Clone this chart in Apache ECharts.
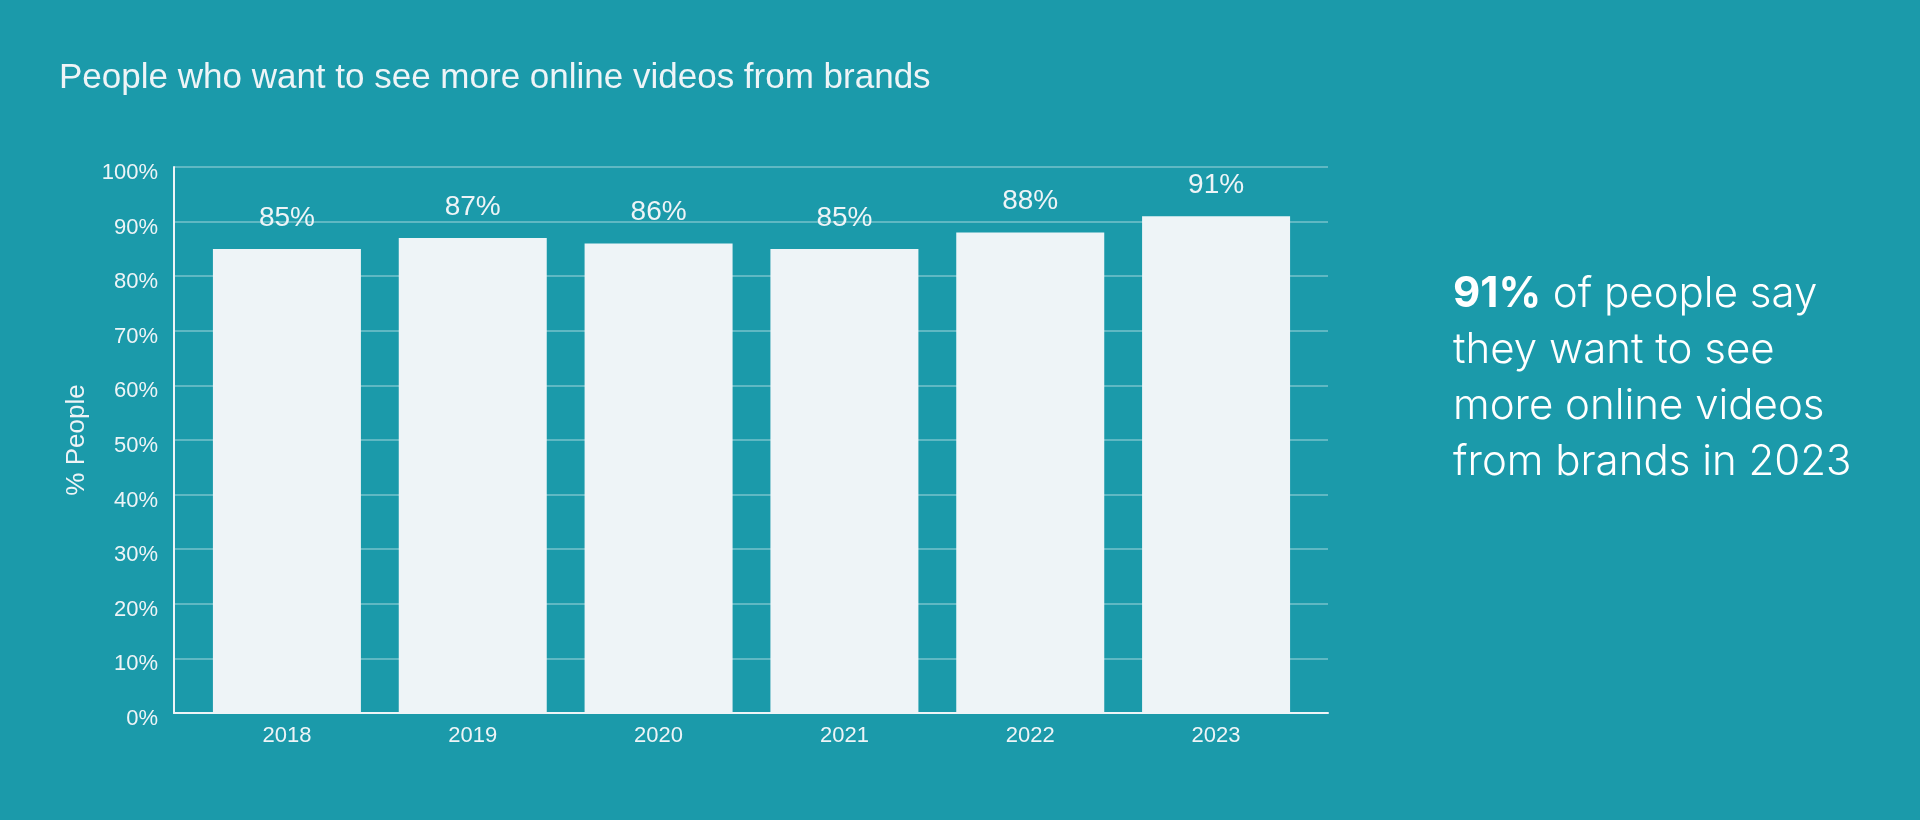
<!DOCTYPE html>
<html>
<head>
<meta charset="utf-8">
<script src="https://cdn.jsdelivr.net/npm/echarts@6/dist/echarts.min.js"></script>
<style>html,body{margin:0;padding:0;background:#1B9AAA;}#c{width:1920px;height:820px;}</style>
</head>
<body>
<div id="c"></div>
<script>
const categories = ['2018', '2019', '2020', '2021', '2022', '2023'];
const values = [85, 87, 86, 85, 88, 91];
const titleText = 'People who want to see more online videos from brands';
const yAxisName = '% People';
const calloutBold = '91%';
const calloutLines = [' of people say', 'they want to see', 'more online videos', 'from brands in 2023'];

const fg = '#EEF4F7';
const chart = echarts.init(document.getElementById('c'), null, {renderer: 'canvas'});
chart.setOption({
  backgroundColor: '#1B9AAA',
  animation: false,
  title: {
    text: titleText,
    left: 59, top: 61, padding: 0,
    textStyle: {color: fg, fontSize: 35, fontWeight: 'normal', fontFamily: 'Liberation Sans'}
  },
  grid: [
    {left: 174, right: 592, top: 167, bottom: 107},
    {left: 194, right: 611, top: 167, bottom: 107}
  ],
  xAxis: [{
    type: 'category', gridIndex: 0,
    data: categories,
    axisLine: {lineStyle: {color: fg, width: 2}},
    axisTick: {show: false},
    axisLabel: {show: false}
  }, {
    type: 'category', gridIndex: 1,
    data: categories,
    axisLine: {show: false},
    axisTick: {show: false},
    axisLabel: {color: fg, fontSize: 22, margin: 12, fontFamily: 'Liberation Sans'}
  }],
  yAxis: [{
    type: 'value', gridIndex: 0, min: 0, max: 100, interval: 10,
    name: yAxisName, nameLocation: 'middle', nameGap: 84, nameRotate: 90,
    nameTextStyle: {color: fg, fontSize: 26, fontFamily: 'Liberation Sans'},
    axisLine: {show: true, lineStyle: {color: fg, width: 2}},
    axisTick: {show: false},
    axisLabel: {color: fg, margin: 16,
                formatter: '{a|{value}%}',
                rich: {a: {color: fg, fontSize: 22, fontFamily: 'Liberation Sans', padding: [12, 0, 0, 0]}}},
    splitLine: {lineStyle: {color: 'rgba(255,255,255,0.3)', width: 2}}
  }, {
    type: 'value', gridIndex: 1, min: 0, max: 100, interval: 10,
    show: false
  }],
  series: [{
    type: 'bar',
    xAxisIndex: 1, yAxisIndex: 1,
    data: values,
    barWidth: 148,
    itemStyle: {color: fg},
    label: {show: true, position: 'top', distance: 17, color: fg, fontSize: 28,
            formatter: '{c}%', fontFamily: 'Liberation Sans'}
  }],
  graphic: [{
    type: 'text',
    left: 1453, top: 266,
    style: {
      text: '{b|' + calloutBold + '}' + calloutLines[0] + '\n' + calloutLines.slice(1).join('\n'),
      fill: '#FFFFFF',
      fontFamily: 'Inter', fontSize: 42, fontWeight: 300,
      lineHeight: 56,
      rich: {b: {fontWeight: 'bold', fontSize: 42, fontFamily: 'Inter', fill: '#FFFFFF', lineHeight: 56}}
    }
  }]
});
</script>
</body>
</html>
